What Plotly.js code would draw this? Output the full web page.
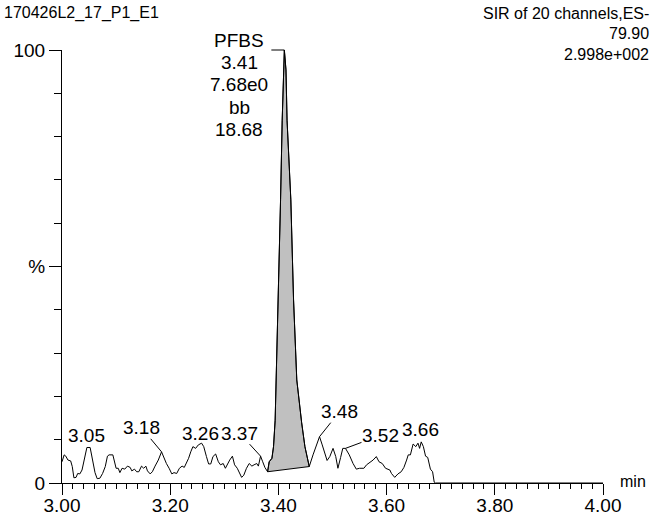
<!DOCTYPE html>
<html>
<head>
<meta charset="utf-8">
<script src="https://cdn.plot.ly/plotly-3.0.1.min.js"></script>
<style>html,body{margin:0;padding:0;background:#fff;}#chart{width:651px;height:520px;}</style>
</head>
<body>
<div id="chart"></div>
<script>
// Chromatogram trace: retention time (min) and relative intensity (%)
const times = [
  3.000,3.004,3.007,3.011,3.016,3.019,3.022,3.026,3.029,3.033,3.037,3.041,3.046,3.052,3.057,3.061,3.065,3.070,
  3.075,3.080,3.084,3.087,3.094,3.097,3.100,3.104,3.107,3.111,3.116,3.121,3.126,3.129,3.134,3.138,3.142,3.147,
  3.151,3.155,3.158,3.163,3.167,3.172,3.178,3.184,3.188,3.193,3.198,3.203,3.207,3.212,3.217,3.222,3.226,3.230,
  3.234,3.238,3.242,3.247,3.252,3.258,3.262,3.267,3.271,3.275,3.279,3.284,3.289,3.293,3.298,3.302,3.306,3.310,
  3.315,3.319,3.324,3.327,3.332,3.336,3.341,3.346,3.351,3.355,3.360,3.363,3.367,3.371,3.375,
  3.380,3.383,3.388,3.391,3.394,3.396,3.399,3.404,3.407,3.409,3.411,3.414,3.416,3.423,3.428,3.434,3.438,3.443,3.449,3.457,
  3.464,3.471,3.476,3.481,3.486,3.490,3.495,3.501,3.506,3.510,3.515,3.519,3.524,3.531,3.538,3.544,3.550,3.558,
  3.563,3.569,3.575,3.581,3.586,3.592,3.598,3.606,3.609,3.615,3.621,3.627,3.632,3.637,3.640,3.644,3.649,3.654,
  3.658,3.661,3.664,3.668,3.672,3.676,3.681,3.685,3.688,3.690,4.000
];
const intensity = [
  4.9,6.5,6.2,5.3,5.1,3.8,1.2,1.3,2.2,2.1,3.0,5.7,8.2,8.2,5.3,2.4,1.0,1.1,
  2.2,3.8,6.2,6.5,6.5,4.5,3.4,3.4,2.4,3.4,3.2,3.9,3.6,2.8,3.2,2.6,2.6,3.9,
  3.4,3.9,2.8,2.1,2.6,3.9,5.3,7.2,5.9,4.5,3.4,2.1,2.4,2.2,3.4,3.9,3.6,4.5,
  5.7,7.2,8.4,8.0,8.8,9.2,8.4,6.1,4.4,4.4,6.1,6.7,4.9,4.2,4.5,3.4,4.5,5.3,
  6.2,4.2,3.4,2.6,1.3,1.8,3.4,4.5,3.9,4.2,4.5,3.9,6.2,4.9,3.6,
  2.6,4.9,5.7,8.4,14.5,23.8,42.3,65.4,83.8,95.4,100,95.4,83.8,65.4,42.3,23.8,19.2,13.9,8.4,3.8,
  6.5,8.8,10.7,8.8,6.5,5.2,6.1,8.0,6.1,3.4,5.9,8.0,8.0,6.5,4.5,3.2,3.4,3.4,
  4.2,4.7,5.3,6.1,4.9,4.5,3.4,3.0,2.2,1.3,2.1,2.6,3.6,5.3,6.5,6.5,9.0,8.4,
  9.2,8.0,9.5,8.4,6.2,5.9,3.2,2.6,0.2,0,0
];
// Integrated peak (baseline drawn from start to end point)
const peakStartTime = 3.380;
const peakEndTime = 3.457;

// Peak apex labels
const labelTexts = ['3.05','3.18','3.26','3.37','3.48','3.52','3.66'];
const labelTimes = [3.049, 3.184, 3.258, 3.367, 3.476, 3.524, 3.664];
const labelHeights = [8.2, 7.2, 9.2, 6.2, 10.7, 8.0, 9.5];

// Main peak annotation
const mainPeakTime = 3.411;
const mainPeakHeight = 100;
const mainPeakLines = ['PFBS','3.41','7.68e0','bb','18.68'];

// Header texts
const sampleName = '170426L2_17_P1_E1';
const headerRight = ['SIR of 20 channels,ES-','79.90','2.998e+002'];

// Axis ticks
const xLabelVals = [3.0, 3.2, 3.4, 3.6, 3.8, 4.0];
const xLabelText = ['3.00','3.20','3.40','3.60','3.80','4.00'];
const xMidVals = [3.1, 3.3, 3.5, 3.7, 3.9];
const yLabelVals = [0, 50, 100];
const yLabelText = ['0','%','100'];

// ---- build ----
const FONT = 'Liberation Sans, Arial, sans-serif';
const FS = 19;
const iStart = times.indexOf(peakStartTime);
const iEnd = times.indexOf(peakEndTime);
const peakX = times.slice(iStart, iEnd + 1).concat([times[iStart]]);
const peakY = intensity.slice(iStart, iEnd + 1).concat([intensity[iStart]]);

const traces = [
  {x: peakX, y: peakY, type: 'scatter', mode: 'lines', fill: 'toself',
   fillcolor: '#c0c0c0', line: {color: '#000', width: 1}, cliponaxis: false, hoverinfo: 'skip'},
  {x: times, y: intensity, type: 'scatter', mode: 'lines',
   line: {color: '#000', width: 1}, cliponaxis: false, hoverinfo: 'skip'}
];

// label offsets (pixels): [ax, ay, arrow]
const labelOffsets = [[-2,-12,false],[-20,-24,true],[-1,-10,false],[-21,-23,true],[20,-25,true],[35,-13,true],[-1,-12,false]];

const annotations = [];
labelTexts.forEach((t, i) => {
  const o = labelOffsets[i];
  if (o[2]) {
    annotations.push({x: labelTimes[i], y: labelHeights[i], xref: 'x', yref: 'y', text: t,
      showarrow: true, arrowhead: 0, arrowwidth: 1, arrowcolor: '#000', ax: o[0], ay: o[1],
      standoff: 0, startstandoff: 0, borderpad: 0, font: {family: FONT, size: FS, color: '#000'}});
  } else {
    annotations.push({x: labelTimes[i], y: labelHeights[i], xref: 'x', yref: 'y', text: t,
      showarrow: false, xshift: o[0], yshift: -o[1], xanchor: 'center', yanchor: 'middle',
      font: {family: FONT, size: FS, color: '#000'}});
  }
});
// connector to main apex
annotations.push({x: mainPeakTime, y: mainPeakHeight, xref: 'x', yref: 'y', text: ' ',
  showarrow: true, arrowhead: 0, arrowwidth: 1, arrowcolor: '#000', ax: -15, ay: 0,
  standoff: 0, font: {family: FONT, size: 2, color: '#000'}});
const mainShifts = [10, -12, -34, -57, -79];
mainPeakLines.forEach((t, i) => {
  annotations.push({x: mainPeakTime, y: mainPeakHeight, xref: 'x', yref: 'y', text: t,
    showarrow: false, xshift: -45, yshift: mainShifts[i], xanchor: 'center', yanchor: 'middle',
    font: {family: FONT, size: FS, color: '#000'}});
});
// header
annotations.push({xref: 'paper', yref: 'paper', x: -0.111, y: 1.085, xanchor: 'left', yanchor: 'middle',
  text: sampleName, showarrow: false, font: {family: FONT, size: 16, color: '#000'}});
const hdrY = [1.085, 1.037, 0.99];
headerRight.forEach((t, i) => {
  annotations.push({xref: 'paper', yref: 'paper', x: 1.089, y: hdrY[i], xanchor: 'right', yanchor: 'middle',
    text: t, showarrow: false, font: {family: FONT, size: 16, color: '#000'}});
});
annotations.push({xref: 'paper', yref: 'paper', x: 1.084, y: 0.003, xanchor: 'right', yanchor: 'middle',
  text: 'min', showarrow: false, font: {family: FONT, size: 16, color: '#000'}});

const layout = {
  width: 651, height: 520,
  margin: {l: 62, r: 48, t: 50, b: 37, pad: 0},
  paper_bgcolor: '#fff', plot_bgcolor: '#fff',
  showlegend: false, hovermode: false,
  font: {family: FONT, size: FS, color: '#000'},
  xaxis: {range: [3, 4], showgrid: false, zeroline: false, showline: true, linecolor: '#000', linewidth: 1,
    tickmode: 'array', tickvals: xLabelVals, ticktext: xLabelText, ticks: 'outside', ticklen: 11,
    ticklabelstandoff: -6,
    tickwidth: 1, tickcolor: '#000', tickfont: {family: FONT, size: FS, color: '#000'},
    minor: {tickmode: 'linear', tick0: 3, dtick: 0.02, ticks: 'outside', ticklen: 5, tickwidth: 1, tickcolor: '#000', showgrid: false}},
  xaxis2: {range: [3, 4], overlaying: 'x', anchor: 'y', side: 'bottom', showgrid: false, zeroline: false,
    showline: false, tickmode: 'array', tickvals: xMidVals, ticktext: xMidVals.map(() => ''),
    ticks: 'outside', ticklen: 8, tickwidth: 1, tickcolor: '#000'},
  yaxis: {range: [0, 100], showgrid: false, zeroline: false, showline: true, linecolor: '#000', linewidth: 1,
    tickmode: 'array', tickvals: yLabelVals, ticktext: yLabelText, ticks: 'outside', ticklen: 12,
    tickwidth: 1, tickcolor: '#000', tickfont: {family: FONT, size: FS, color: '#000'},
    minor: {tickmode: 'linear', tick0: 0, dtick: 10, ticks: 'outside', ticklen: 7, tickwidth: 1, tickcolor: '#000', showgrid: false}},
  annotations: annotations
};

Plotly.newPlot('chart', traces, layout, {staticPlot: true, displayModeBar: false});
</script>
</body>
</html>
